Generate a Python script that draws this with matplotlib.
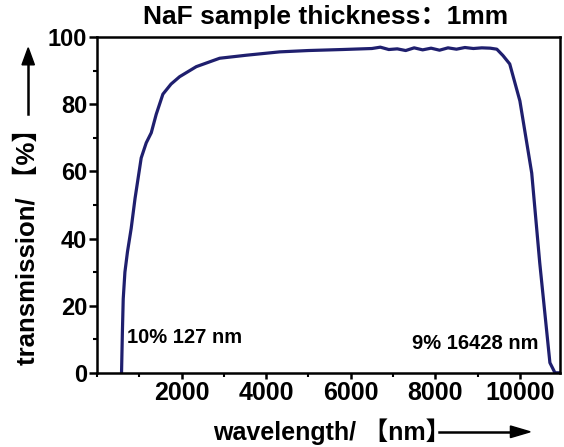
import matplotlib.pyplot as plt
from matplotlib.ticker import MultipleLocator

# wavelength (nm) and transmission (%)
wavelength = [580, 600, 620, 660, 720, 808, 900, 1045, 1164, 1283, 1400, 1558, 1750,
              1953, 2348, 2900, 3530, 4320, 5000, 5800, 6500, 6700, 6900, 7100, 7300,
              7500, 7700, 7900, 8100, 8300, 8500, 8700, 8900, 9100, 9300, 9455, 9600,
              9760, 10000, 10280, 10470, 10710, 10830, 10950]
transmission = [0, 12, 22, 30, 36, 43, 52, 64, 68.5, 71.5, 77, 83, 86,
                88.2, 91.2, 93.7, 94.6, 95.6, 96.0, 96.3, 96.6, 97.0, 96.3, 96.5, 96.0,
                96.8, 96.2, 96.7, 96.1, 96.8, 96.4, 96.9, 96.6, 96.8, 96.7, 96.4, 94.5,
                92, 81, 59.5, 32.7, 3, 0, 0]
xticks = [2000, 4000, 6000, 8000, 10000]

title = "NaF sample thickness：1mm"
xlabel = "wavelength/ 【nm】"
ylabel = "transmission/ 【%】"
note_left = "10% 127 nm"
note_right = "9% 16428 nm"

fam = ['Liberation Sans', 'Noto Sans CJK SC', 'DejaVu Sans']
plt.rcParams['font.family'] = fam
plt.rcParams['font.weight'] = 'bold'

fig = plt.figure(figsize=(5.64, 4.47), dpi=100)
ax = fig.add_axes([0.172, 0.166, 0.821, 0.751])
line_color = '#1f1f6e'
ax.plot(wavelength, transmission, color=line_color, lw=2.3)

ax.set_xlim(0, 10950)
ax.set_ylim(0, 100)
ax.set_xticks(xticks)
ax.xaxis.set_minor_locator(MultipleLocator(1000))
ax.yaxis.set_major_locator(MultipleLocator(20))
ax.yaxis.set_minor_locator(MultipleLocator(10))
ax.tick_params(axis='x', which='major', length=4, width=1.8, labelsize=18, pad=2)
ax.tick_params(axis='y', which='major', length=6, width=1.8, labelsize=17, pad=1)
ax.tick_params(which='minor', length=3, width=1.5)
for lab in ax.get_xticklabels() + ax.get_yticklabels():
    lab.set_fontweight('bold')
for s in ax.spines.values():
    s.set_linewidth(1.8)

ax.text(0.065, 0.104, note_left, transform=ax.transAxes, fontsize=14.5, fontweight='bold',
        va='center')
ax.text(0.68, 0.086, note_right, transform=ax.transAxes, fontsize=14.5, fontweight='bold',
        va='center')

fig.text(0.578, 0.962, title, ha='center', va='center', fontsize=19, fontweight='bold')

# axis labels with arrows
fig.text(0.378, 0.034, xlabel, ha='left', va='center', fontsize=18, fontweight='bold')
fig.add_artist(plt.Line2D([0.778, 0.905], [0.034, 0.034], color='black', lw=1.8))
fig.patches.append(plt.Polygon([[0.905, 0.047], [0.905, 0.021], [0.94, 0.034]],
                               closed=True, color='black', transform=fig.transFigure))

fig.text(0.05, 0.183, ylabel, ha='center', va='bottom', rotation=90, fontsize=18.5,
         fontweight='bold')
fig.add_artist(plt.Line2D([0.05, 0.05], [0.745, 0.855], color='black', lw=1.8))
fig.patches.append(plt.Polygon([[0.039, 0.855], [0.061, 0.855], [0.05, 0.893]],
                               closed=True, color='black', transform=fig.transFigure))

fig.savefig('out.png', dpi=100)
